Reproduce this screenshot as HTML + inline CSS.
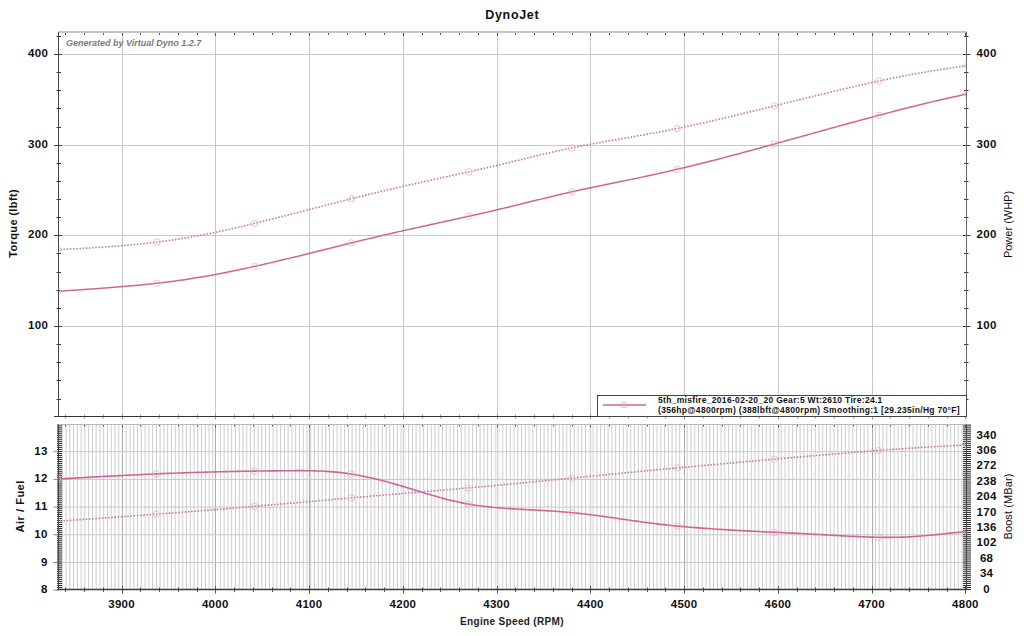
<!DOCTYPE html><html><head><meta charset="utf-8"><style>html,body{margin:0;padding:0;width:1024px;height:636px;overflow:hidden;background:#fff}</style></head><body><svg width="1024" height="636" viewBox="0 0 1024 636" style="position:absolute;left:0;top:0">
<rect width="1024" height="636" fill="#fff"/>
<text x="512.3" y="18.9" text-anchor="middle" font-family="Liberation Sans" font-weight="bold" font-size="12.5" letter-spacing="0.67" fill="#111">DynoJet</text>
<path d="M122.5 32.0V416.5M215.5 32.0V416.5M309.5 32.0V416.5M403.5 32.0V416.5M497.5 32.0V416.5M590.5 32.0V416.5M684.5 32.0V416.5M778.5 32.0V416.5M872.5 32.0V416.5M58.5 326.5H966.5M58.5 235.5H966.5M58.5 145.5H966.5M58.5 54.5H966.5" stroke="#c8c8c8" stroke-width="1" fill="none"/>
<text x="66" y="46" font-family="Liberation Sans" font-weight="bold" font-style="italic" font-size="9" fill="#7a7a7a">Generated by Virtual Dyno 1.2.7</text>
<path d="M56.5 399.5H61.0M964.0 399.5H968.5M56.5 380.5H61.0M964.0 380.5H968.5M56.5 362.5H61.0M964.0 362.5H968.5M56.5 344.5H61.0M964.0 344.5H968.5M54.0 326.5H62.0M963.0 326.5H970.5M56.5 308.5H61.0M964.0 308.5H968.5M56.5 290.5H61.0M964.0 290.5H968.5M56.5 272.5H61.0M964.0 272.5H968.5M56.5 253.5H61.0M964.0 253.5H968.5M54.0 235.5H62.0M963.0 235.5H970.5M56.5 217.5H61.0M964.0 217.5H968.5M56.5 199.5H61.0M964.0 199.5H968.5M56.5 181.5H61.0M964.0 181.5H968.5M56.5 163.5H61.0M964.0 163.5H968.5M54.0 145.5H62.0M963.0 145.5H970.5M56.5 127.5H61.0M964.0 127.5H968.5M56.5 108.5H61.0M964.0 108.5H968.5M56.5 90.5H61.0M964.0 90.5H968.5M56.5 72.5H61.0M964.0 72.5H968.5M54.0 54.5H62.0M963.0 54.5H970.5M56.5 36.5H61.0M964.0 36.5H968.5" stroke="#3a3a3a" stroke-width="1" fill="none"/>
<path d="M65.5 32.0V35.0M84.5 32.0V35.0M103.5 32.0V35.0M122.5 32.0V36.0M140.5 32.0V35.0M159.5 32.0V35.0M178.5 32.0V35.0M197.5 32.0V35.0M215.5 32.0V36.0M234.5 32.0V35.0M253.5 32.0V35.0M272.5 32.0V35.0M290.5 32.0V35.0M309.5 32.0V36.0M328.5 32.0V35.0M347.5 32.0V35.0M365.5 32.0V35.0M384.5 32.0V35.0M403.5 32.0V36.0M422.5 32.0V35.0M440.5 32.0V35.0M459.5 32.0V35.0M478.5 32.0V35.0M497.5 32.0V36.0M515.5 32.0V35.0M534.5 32.0V35.0M553.5 32.0V35.0M572.5 32.0V35.0M590.5 32.0V36.0M609.5 32.0V35.0M628.5 32.0V35.0M647.5 32.0V35.0M665.5 32.0V35.0M684.5 32.0V36.0M703.5 32.0V35.0M722.5 32.0V35.0M740.5 32.0V35.0M759.5 32.0V35.0M778.5 32.0V36.0M797.5 32.0V35.0M815.5 32.0V35.0M834.5 32.0V35.0M853.5 32.0V35.0M872.5 32.0V36.0M890.5 32.0V35.0M909.5 32.0V35.0M928.5 32.0V35.0M947.5 32.0V35.0M965.5 32.0V36.0" stroke="#555" stroke-width="1" fill="none"/>
<path d="M65.5 414.5V418.5M84.5 414.5V418.5M103.5 414.5V418.5M122.5 413.5V419.5M140.5 414.5V418.5M159.5 414.5V418.5M178.5 414.5V418.5M197.5 414.5V418.5M215.5 413.5V419.5M234.5 414.5V418.5M253.5 414.5V418.5M272.5 414.5V418.5M290.5 414.5V418.5M309.5 413.5V419.5M328.5 414.5V418.5M347.5 414.5V418.5M365.5 414.5V418.5M384.5 414.5V418.5M403.5 413.5V419.5M422.5 414.5V418.5M440.5 414.5V418.5M459.5 414.5V418.5M478.5 414.5V418.5M497.5 413.5V419.5M515.5 414.5V418.5M534.5 414.5V418.5M553.5 414.5V418.5M572.5 414.5V418.5M590.5 413.5V419.5M609.5 414.5V418.5M628.5 414.5V418.5M647.5 414.5V418.5M665.5 414.5V418.5M684.5 413.5V419.5M703.5 414.5V418.5M722.5 414.5V418.5M740.5 414.5V418.5M759.5 414.5V418.5M778.5 413.5V419.5M797.5 414.5V418.5M815.5 414.5V418.5M834.5 414.5V418.5M853.5 414.5V418.5M872.5 413.5V419.5M890.5 414.5V418.5M909.5 414.5V418.5M928.5 414.5V418.5M947.5 414.5V418.5M965.5 413.5V419.5" stroke="#9a9a9a" stroke-width="1" fill="none"/>
<path d="M58.0 32.0H967.0" stroke="#c4c4c4" stroke-width="2" fill="none"/>
<path d="M58.5 416.5V32.0" stroke="#444" stroke-width="1" fill="none"/>
<path d="M966.5 32.0V416.5" stroke="#666" stroke-width="1" fill="none"/>
<path d="M54.0 416.5H967.0" stroke="#333" stroke-width="1" fill="none"/>
<text x="48.1" y="328.7" text-anchor="end" font-family="Liberation Sans" font-weight="bold" font-size="11.5" letter-spacing="0.3" fill="#111">100</text>
<text x="986.6" y="328.7" text-anchor="middle" font-family="Liberation Sans" font-weight="bold" font-size="11.5" letter-spacing="0.3" fill="#111">100</text>
<text x="48.1" y="237.7" text-anchor="end" font-family="Liberation Sans" font-weight="bold" font-size="11.5" letter-spacing="0.3" fill="#111">200</text>
<text x="986.6" y="237.7" text-anchor="middle" font-family="Liberation Sans" font-weight="bold" font-size="11.5" letter-spacing="0.3" fill="#111">200</text>
<text x="48.1" y="147.7" text-anchor="end" font-family="Liberation Sans" font-weight="bold" font-size="11.5" letter-spacing="0.3" fill="#111">300</text>
<text x="986.6" y="147.7" text-anchor="middle" font-family="Liberation Sans" font-weight="bold" font-size="11.5" letter-spacing="0.3" fill="#111">300</text>
<text x="48.1" y="56.7" text-anchor="end" font-family="Liberation Sans" font-weight="bold" font-size="11.5" letter-spacing="0.3" fill="#111">400</text>
<text x="986.6" y="56.7" text-anchor="middle" font-family="Liberation Sans" font-weight="bold" font-size="11.5" letter-spacing="0.3" fill="#111">400</text>
<text transform="translate(16.6,223.4) rotate(-90)" text-anchor="middle" font-family="Liberation Sans" font-weight="bold" font-size="11" letter-spacing="0.37" fill="#111">Torque (lbft)</text>
<text transform="translate(1012,224.5) rotate(-90)" text-anchor="middle" font-family="Liberation Sans" font-size="11" fill="#111">Power (WHP)</text>
<clipPath id="cu"><rect x="58.5" y="32.0" width="908.0" height="384.5"/></clipPath>
<clipPath id="cl"><rect x="58.5" y="424.5" width="908.0" height="165.5"/></clipPath>
<g clip-path="url(#cu)">
<path d="M57.0 291.30 L60.0 291.10 L63.0 290.91 L66.0 290.72 L69.0 290.52 L72.0 290.33 L75.0 290.13 L78.0 289.93 L81.0 289.73 L84.0 289.53 L87.0 289.33 L90.0 289.12 L93.0 288.91 L96.0 288.70 L99.0 288.49 L102.0 288.27 L105.0 288.05 L108.0 287.82 L111.0 287.59 L114.0 287.35 L117.0 287.11 L120.0 286.87 L123.0 286.61 L126.0 286.36 L129.0 286.09 L132.0 285.82 L135.0 285.54 L138.0 285.26 L141.0 284.96 L144.0 284.66 L147.0 284.35 L150.0 284.04 L153.0 283.71 L156.0 283.37 L159.0 283.03 L162.0 282.67 L165.0 282.31 L168.0 281.94 L171.0 281.55 L174.0 281.15 L177.0 280.75 L180.0 280.33 L183.0 279.90 L186.0 279.45 L189.0 279.00 L192.0 278.53 L195.0 278.05 L198.0 277.56 L201.0 277.05 L204.0 276.54 L207.0 276.01 L210.0 275.48 L213.0 274.93 L216.0 274.37 L219.0 273.81 L222.0 273.23 L225.0 272.64 L228.0 272.05 L231.0 271.44 L234.0 270.83 L237.0 270.21 L240.0 269.58 L243.0 268.94 L246.0 268.29 L249.0 267.64 L252.0 266.98 L255.0 266.31 L258.0 265.64 L261.0 264.96 L264.0 264.28 L267.0 263.59 L270.0 262.89 L273.0 262.19 L276.0 261.48 L279.0 260.77 L282.0 260.06 L285.0 259.34 L288.0 258.61 L291.0 257.89 L294.0 257.16 L297.0 256.42 L300.0 255.69 L303.0 254.95 L306.0 254.21 L309.0 253.47 L312.0 252.72 L315.0 251.98 L318.0 251.23 L321.0 250.49 L324.0 249.74 L327.0 248.99 L330.0 248.24 L333.0 247.49 L336.0 246.75 L339.0 246.00 L342.0 245.26 L345.0 244.51 L348.0 243.77 L351.0 243.03 L354.0 242.29 L357.0 241.55 L360.0 240.82 L363.0 240.09 L366.0 239.36 L369.0 238.64 L372.0 237.92 L375.0 237.20 L378.0 236.49 L381.0 235.79 L384.0 235.08 L387.0 234.39 L390.0 233.69 L393.0 233.01 L396.0 232.32 L399.0 231.64 L402.0 230.96 L405.0 230.29 L408.0 229.62 L411.0 228.95 L414.0 228.29 L417.0 227.63 L420.0 226.97 L423.0 226.31 L426.0 225.65 L429.0 224.99 L432.0 224.34 L435.0 223.68 L438.0 223.03 L441.0 222.37 L444.0 221.72 L447.0 221.06 L450.0 220.40 L453.0 219.75 L456.0 219.09 L459.0 218.43 L462.0 217.77 L465.0 217.10 L468.0 216.43 L471.0 215.76 L474.0 215.09 L477.0 214.41 L480.0 213.74 L483.0 213.05 L486.0 212.36 L489.0 211.67 L492.0 210.98 L495.0 210.27 L498.0 209.57 L501.0 208.85 L504.0 208.14 L507.0 207.42 L510.0 206.69 L513.0 205.96 L516.0 205.23 L519.0 204.50 L522.0 203.77 L525.0 203.03 L528.0 202.30 L531.0 201.56 L534.0 200.83 L537.0 200.09 L540.0 199.36 L543.0 198.63 L546.0 197.90 L549.0 197.18 L552.0 196.46 L555.0 195.75 L558.0 195.04 L561.0 194.33 L564.0 193.63 L567.0 192.94 L570.0 192.26 L573.0 191.58 L576.0 190.91 L579.0 190.25 L582.0 189.60 L585.0 188.95 L588.0 188.30 L591.0 187.67 L594.0 187.03 L597.0 186.40 L600.0 185.78 L603.0 185.16 L606.0 184.54 L609.0 183.92 L612.0 183.30 L615.0 182.69 L618.0 182.07 L621.0 181.46 L624.0 180.84 L627.0 180.23 L630.0 179.61 L633.0 178.99 L636.0 178.36 L639.0 177.74 L642.0 177.11 L645.0 176.47 L648.0 175.83 L651.0 175.19 L654.0 174.54 L657.0 173.88 L660.0 173.21 L663.0 172.54 L666.0 171.87 L669.0 171.18 L672.0 170.49 L675.0 169.79 L678.0 169.09 L681.0 168.38 L684.0 167.66 L687.0 166.94 L690.0 166.21 L693.0 165.48 L696.0 164.74 L699.0 163.99 L702.0 163.24 L705.0 162.49 L708.0 161.73 L711.0 160.97 L714.0 160.20 L717.0 159.43 L720.0 158.65 L723.0 157.87 L726.0 157.08 L729.0 156.30 L732.0 155.50 L735.0 154.71 L738.0 153.91 L741.0 153.11 L744.0 152.30 L747.0 151.49 L750.0 150.68 L753.0 149.87 L756.0 149.05 L759.0 148.24 L762.0 147.42 L765.0 146.59 L768.0 145.77 L771.0 144.95 L774.0 144.12 L777.0 143.29 L780.0 142.46 L783.0 141.63 L786.0 140.80 L789.0 139.96 L792.0 139.13 L795.0 138.30 L798.0 137.46 L801.0 136.63 L804.0 135.79 L807.0 134.96 L810.0 134.12 L813.0 133.29 L816.0 132.45 L819.0 131.62 L822.0 130.79 L825.0 129.96 L828.0 129.12 L831.0 128.29 L834.0 127.46 L837.0 126.64 L840.0 125.81 L843.0 124.99 L846.0 124.16 L849.0 123.34 L852.0 122.52 L855.0 121.71 L858.0 120.89 L861.0 120.08 L864.0 119.27 L867.0 118.46 L870.0 117.66 L873.0 116.85 L876.0 116.06 L879.0 115.26 L882.0 114.47 L885.0 113.68 L888.0 112.89 L891.0 112.11 L894.0 111.34 L897.0 110.56 L900.0 109.79 L903.0 109.03 L906.0 108.27 L909.0 107.51 L912.0 106.76 L915.0 106.01 L918.0 105.27 L921.0 104.54 L924.0 103.81 L927.0 103.08 L930.0 102.36 L933.0 101.64 L936.0 100.94 L939.0 100.23 L942.0 99.54 L945.0 98.84 L948.0 98.16 L951.0 97.48 L954.0 96.81 L957.0 96.15 L960.0 95.49 L963.0 94.84 L966.0 94.19 L969.0 93.56" stroke="#d0649a" stroke-width="1.5" fill="none" stroke-linejoin="round"/>
<path d="M57.0 249.56 L60.0 249.44 L63.0 249.30 L66.0 249.17 L69.0 249.03 L72.0 248.89 L75.0 248.74 L78.0 248.59 L81.0 248.44 L84.0 248.27 L87.0 248.11 L90.0 247.94 L93.0 247.76 L96.0 247.57 L99.0 247.38 L102.0 247.18 L105.0 246.98 L108.0 246.77 L111.0 246.55 L114.0 246.32 L117.0 246.09 L120.0 245.84 L123.0 245.59 L126.0 245.33 L129.0 245.06 L132.0 244.78 L135.0 244.49 L138.0 244.19 L141.0 243.89 L144.0 243.57 L147.0 243.24 L150.0 242.90 L153.0 242.54 L156.0 242.18 L159.0 241.81 L162.0 241.42 L165.0 241.02 L168.0 240.61 L171.0 240.18 L174.0 239.75 L177.0 239.30 L180.0 238.83 L183.0 238.35 L186.0 237.86 L189.0 237.35 L192.0 236.83 L195.0 236.30 L198.0 235.75 L201.0 235.19 L204.0 234.62 L207.0 234.03 L210.0 233.43 L213.0 232.82 L216.0 232.20 L219.0 231.57 L222.0 230.93 L225.0 230.28 L228.0 229.62 L231.0 228.95 L234.0 228.27 L237.0 227.58 L240.0 226.88 L243.0 226.18 L246.0 225.47 L249.0 224.75 L252.0 224.03 L255.0 223.30 L258.0 222.57 L261.0 221.83 L264.0 221.08 L267.0 220.33 L270.0 219.58 L273.0 218.82 L276.0 218.06 L279.0 217.30 L282.0 216.54 L285.0 215.77 L288.0 215.00 L291.0 214.23 L294.0 213.46 L297.0 212.68 L300.0 211.91 L303.0 211.14 L306.0 210.36 L309.0 209.59 L312.0 208.81 L315.0 208.04 L318.0 207.26 L321.0 206.49 L324.0 205.72 L327.0 204.94 L330.0 204.17 L333.0 203.40 L336.0 202.64 L339.0 201.87 L342.0 201.11 L345.0 200.35 L348.0 199.59 L351.0 198.83 L354.0 198.08 L357.0 197.33 L360.0 196.59 L363.0 195.85 L366.0 195.11 L369.0 194.38 L372.0 193.65 L375.0 192.92 L378.0 192.20 L381.0 191.49 L384.0 190.78 L387.0 190.07 L390.0 189.37 L393.0 188.68 L396.0 187.99 L399.0 187.30 L402.0 186.62 L405.0 185.94 L408.0 185.27 L411.0 184.60 L414.0 183.93 L417.0 183.26 L420.0 182.59 L423.0 181.93 L426.0 181.27 L429.0 180.61 L432.0 179.95 L435.0 179.29 L438.0 178.64 L441.0 177.98 L444.0 177.32 L447.0 176.67 L450.0 176.01 L453.0 175.35 L456.0 174.69 L459.0 174.03 L462.0 173.36 L465.0 172.70 L468.0 172.03 L471.0 171.36 L474.0 170.68 L477.0 170.01 L480.0 169.33 L483.0 168.64 L486.0 167.95 L489.0 167.26 L492.0 166.56 L495.0 165.86 L498.0 165.15 L501.0 164.44 L504.0 163.73 L507.0 163.00 L510.0 162.28 L513.0 161.55 L516.0 160.83 L519.0 160.10 L522.0 159.37 L525.0 158.64 L528.0 157.91 L531.0 157.19 L534.0 156.46 L537.0 155.74 L540.0 155.03 L543.0 154.32 L546.0 153.61 L549.0 152.91 L552.0 152.22 L555.0 151.54 L558.0 150.86 L561.0 150.19 L564.0 149.54 L567.0 148.89 L570.0 148.26 L573.0 147.63 L576.0 147.02 L579.0 146.42 L582.0 145.83 L585.0 145.25 L588.0 144.69 L591.0 144.12 L594.0 143.57 L597.0 143.02 L600.0 142.48 L603.0 141.95 L606.0 141.42 L609.0 140.90 L612.0 140.37 L615.0 139.85 L618.0 139.34 L621.0 138.82 L624.0 138.30 L627.0 137.79 L630.0 137.27 L633.0 136.75 L636.0 136.23 L639.0 135.71 L642.0 135.18 L645.0 134.65 L648.0 134.11 L651.0 133.56 L654.0 133.01 L657.0 132.45 L660.0 131.89 L663.0 131.31 L666.0 130.73 L669.0 130.14 L672.0 129.54 L675.0 128.93 L678.0 128.32 L681.0 127.70 L684.0 127.07 L687.0 126.43 L690.0 125.79 L693.0 125.15 L696.0 124.49 L699.0 123.83 L702.0 123.17 L705.0 122.50 L708.0 121.82 L711.0 121.14 L714.0 120.45 L717.0 119.76 L720.0 119.06 L723.0 118.36 L726.0 117.66 L729.0 116.95 L732.0 116.24 L735.0 115.52 L738.0 114.81 L741.0 114.08 L744.0 113.36 L747.0 112.63 L750.0 111.90 L753.0 111.17 L756.0 110.44 L759.0 109.70 L762.0 108.96 L765.0 108.22 L768.0 107.48 L771.0 106.74 L774.0 106.00 L777.0 105.26 L780.0 104.51 L783.0 103.77 L786.0 103.03 L789.0 102.28 L792.0 101.54 L795.0 100.80 L798.0 100.06 L801.0 99.32 L804.0 98.58 L807.0 97.84 L810.0 97.10 L813.0 96.37 L816.0 95.63 L819.0 94.90 L822.0 94.17 L825.0 93.45 L828.0 92.72 L831.0 92.00 L834.0 91.29 L837.0 90.57 L840.0 89.86 L843.0 89.16 L846.0 88.45 L849.0 87.76 L852.0 87.06 L855.0 86.37 L858.0 85.69 L861.0 85.01 L864.0 84.33 L867.0 83.67 L870.0 83.00 L873.0 82.34 L876.0 81.69 L879.0 81.05 L882.0 80.41 L885.0 79.78 L888.0 79.15 L891.0 78.53 L894.0 77.92 L897.0 77.32 L900.0 76.72 L903.0 76.13 L906.0 75.55 L909.0 74.98 L912.0 74.41 L915.0 73.86 L918.0 73.31 L921.0 72.77 L924.0 72.25 L927.0 71.73 L930.0 71.22 L933.0 70.72 L936.0 70.23 L939.0 69.75 L942.0 69.28 L945.0 68.82 L948.0 68.37 L951.0 67.94 L954.0 67.51 L957.0 67.10 L960.0 66.69 L963.0 66.30 L966.0 65.92 L969.0 65.56" stroke="#c77aa0" stroke-width="1.6" stroke-dasharray="1.6 1.6" fill="none"/>
<circle cx="57.5" cy="291.3" r="3.2" stroke="#e2b2c8" stroke-width="0.8" fill="none"/>
<circle cx="57.5" cy="249.5" r="3.2" stroke="#e2b2c8" stroke-width="0.8" fill="none"/>
<circle cx="157.2" cy="283.2" r="3.2" stroke="#e2b2c8" stroke-width="0.8" fill="none"/>
<circle cx="157.2" cy="242.0" r="3.2" stroke="#e2b2c8" stroke-width="0.8" fill="none"/>
<circle cx="254.7" cy="266.4" r="3.2" stroke="#e2b2c8" stroke-width="0.8" fill="none"/>
<circle cx="254.7" cy="223.4" r="3.2" stroke="#e2b2c8" stroke-width="0.8" fill="none"/>
<circle cx="351.6" cy="242.9" r="3.2" stroke="#e2b2c8" stroke-width="0.8" fill="none"/>
<circle cx="351.6" cy="198.7" r="3.2" stroke="#e2b2c8" stroke-width="0.8" fill="none"/>
<circle cx="468.8" cy="216.3" r="3.2" stroke="#e2b2c8" stroke-width="0.8" fill="none"/>
<circle cx="468.8" cy="171.8" r="3.2" stroke="#e2b2c8" stroke-width="0.8" fill="none"/>
<circle cx="571.8" cy="191.9" r="3.2" stroke="#e2b2c8" stroke-width="0.8" fill="none"/>
<circle cx="571.8" cy="147.9" r="3.2" stroke="#e2b2c8" stroke-width="0.8" fill="none"/>
<circle cx="677.1" cy="169.3" r="3.2" stroke="#e2b2c8" stroke-width="0.8" fill="none"/>
<circle cx="677.1" cy="128.5" r="3.2" stroke="#e2b2c8" stroke-width="0.8" fill="none"/>
<circle cx="774.4" cy="144.0" r="3.2" stroke="#e2b2c8" stroke-width="0.8" fill="none"/>
<circle cx="774.4" cy="105.9" r="3.2" stroke="#e2b2c8" stroke-width="0.8" fill="none"/>
<circle cx="879.0" cy="115.3" r="3.2" stroke="#e2b2c8" stroke-width="0.8" fill="none"/>
<circle cx="879.0" cy="81.0" r="3.2" stroke="#e2b2c8" stroke-width="0.8" fill="none"/>
<circle cx="967.5" cy="93.9" r="3.2" stroke="#e2b2c8" stroke-width="0.8" fill="none"/>
<circle cx="967.5" cy="65.7" r="3.2" stroke="#e2b2c8" stroke-width="0.8" fill="none"/>
</g>
<rect x="597.5" y="395.5" width="369" height="21" fill="#fff" stroke="#444" stroke-width="1"/>
<path d="M603 405H646" stroke="#d0649a" stroke-width="1.5"/>
<circle cx="624" cy="405" r="3" stroke="#e2b2c8" stroke-width="0.8" fill="none"/>
<text x="658" y="402.5" font-family="Liberation Sans" font-weight="bold" font-size="8.5" letter-spacing="0.31" fill="#111">5th_misfire_2016-02-20_20 Gear:5 Wt:2610 Tire:24.1</text>
<text x="658" y="413" font-family="Liberation Sans" font-weight="bold" font-size="8.5" letter-spacing="0.31" fill="#111">(356hp@4800rpm) (388lbft@4800rpm) Smoothing:1 [29.235in/Hg 70°F]</text>
<path d="M62.27 424.5V590.0M66.03 424.5V590.0M69.80 424.5V590.0M73.56 424.5V590.0M77.32 424.5V590.0M81.09 424.5V590.0M84.85 424.5V590.0M88.62 424.5V590.0M92.38 424.5V590.0M96.15 424.5V590.0M99.91 424.5V590.0M103.68 424.5V590.0M107.44 424.5V590.0M111.21 424.5V590.0M114.97 424.5V590.0M118.74 424.5V590.0M126.26 424.5V590.0M130.03 424.5V590.0M133.79 424.5V590.0M137.56 424.5V590.0M141.32 424.5V590.0M145.09 424.5V590.0M148.85 424.5V590.0M152.62 424.5V590.0M156.38 424.5V590.0M160.15 424.5V590.0M163.91 424.5V590.0M167.68 424.5V590.0M171.44 424.5V590.0M175.20 424.5V590.0M178.97 424.5V590.0M182.73 424.5V590.0M186.50 424.5V590.0M190.26 424.5V590.0M194.03 424.5V590.0M197.79 424.5V590.0M201.56 424.5V590.0M205.32 424.5V590.0M209.09 424.5V590.0M212.85 424.5V590.0M220.38 424.5V590.0M224.14 424.5V590.0M227.91 424.5V590.0M231.67 424.5V590.0M235.44 424.5V590.0M239.20 424.5V590.0M242.97 424.5V590.0M246.73 424.5V590.0M250.50 424.5V590.0M254.26 424.5V590.0M258.03 424.5V590.0M261.79 424.5V590.0M265.55 424.5V590.0M269.32 424.5V590.0M273.08 424.5V590.0M276.85 424.5V590.0M280.61 424.5V590.0M284.38 424.5V590.0M288.14 424.5V590.0M291.91 424.5V590.0M295.67 424.5V590.0M299.44 424.5V590.0M303.20 424.5V590.0M306.97 424.5V590.0M310.73 424.5V590.0M314.49 424.5V590.0M318.26 424.5V590.0M322.02 424.5V590.0M325.79 424.5V590.0M329.55 424.5V590.0M333.32 424.5V590.0M337.08 424.5V590.0M340.85 424.5V590.0M344.61 424.5V590.0M348.38 424.5V590.0M352.14 424.5V590.0M355.91 424.5V590.0M359.67 424.5V590.0M363.43 424.5V590.0M367.20 424.5V590.0M370.96 424.5V590.0M374.73 424.5V590.0M378.49 424.5V590.0M382.26 424.5V590.0M386.02 424.5V590.0M389.79 424.5V590.0M393.55 424.5V590.0M397.32 424.5V590.0M401.08 424.5V590.0M404.85 424.5V590.0M408.61 424.5V590.0M412.37 424.5V590.0M416.14 424.5V590.0M419.90 424.5V590.0M423.67 424.5V590.0M427.43 424.5V590.0M431.20 424.5V590.0M434.96 424.5V590.0M438.73 424.5V590.0M442.49 424.5V590.0M446.26 424.5V590.0M450.02 424.5V590.0M453.78 424.5V590.0M457.55 424.5V590.0M461.31 424.5V590.0M465.08 424.5V590.0M468.84 424.5V590.0M472.61 424.5V590.0M476.37 424.5V590.0M480.14 424.5V590.0M483.90 424.5V590.0M487.67 424.5V590.0M491.43 424.5V590.0M495.20 424.5V590.0M498.96 424.5V590.0M502.72 424.5V590.0M506.49 424.5V590.0M510.25 424.5V590.0M514.02 424.5V590.0M517.78 424.5V590.0M521.55 424.5V590.0M525.31 424.5V590.0M529.08 424.5V590.0M532.84 424.5V590.0M536.61 424.5V590.0M540.37 424.5V590.0M544.14 424.5V590.0M547.90 424.5V590.0M551.66 424.5V590.0M555.43 424.5V590.0M559.19 424.5V590.0M562.96 424.5V590.0M566.72 424.5V590.0M570.49 424.5V590.0M574.25 424.5V590.0M578.02 424.5V590.0M581.78 424.5V590.0M585.55 424.5V590.0M593.08 424.5V590.0M596.84 424.5V590.0M600.60 424.5V590.0M604.37 424.5V590.0M608.13 424.5V590.0M611.90 424.5V590.0M615.66 424.5V590.0M619.43 424.5V590.0M623.19 424.5V590.0M626.96 424.5V590.0M630.72 424.5V590.0M634.49 424.5V590.0M638.25 424.5V590.0M642.01 424.5V590.0M645.78 424.5V590.0M649.54 424.5V590.0M653.31 424.5V590.0M657.07 424.5V590.0M660.84 424.5V590.0M664.60 424.5V590.0M668.37 424.5V590.0M672.13 424.5V590.0M675.90 424.5V590.0M679.66 424.5V590.0M687.19 424.5V590.0M690.95 424.5V590.0M694.72 424.5V590.0M698.48 424.5V590.0M702.25 424.5V590.0M706.01 424.5V590.0M709.78 424.5V590.0M713.54 424.5V590.0M717.31 424.5V590.0M721.07 424.5V590.0M724.84 424.5V590.0M728.60 424.5V590.0M732.37 424.5V590.0M736.13 424.5V590.0M739.89 424.5V590.0M743.66 424.5V590.0M747.42 424.5V590.0M751.19 424.5V590.0M754.95 424.5V590.0M758.72 424.5V590.0M762.48 424.5V590.0M766.25 424.5V590.0M770.01 424.5V590.0M773.78 424.5V590.0M781.31 424.5V590.0M785.07 424.5V590.0M788.83 424.5V590.0M792.60 424.5V590.0M796.36 424.5V590.0M800.13 424.5V590.0M803.89 424.5V590.0M807.66 424.5V590.0M811.42 424.5V590.0M815.19 424.5V590.0M818.95 424.5V590.0M822.72 424.5V590.0M826.48 424.5V590.0M830.24 424.5V590.0M834.01 424.5V590.0M837.77 424.5V590.0M841.54 424.5V590.0M845.30 424.5V590.0M849.07 424.5V590.0M852.83 424.5V590.0M856.60 424.5V590.0M860.36 424.5V590.0M864.13 424.5V590.0M867.89 424.5V590.0M875.42 424.5V590.0M879.18 424.5V590.0M882.95 424.5V590.0M886.71 424.5V590.0M890.48 424.5V590.0M894.24 424.5V590.0M898.01 424.5V590.0M901.77 424.5V590.0M905.54 424.5V590.0M909.30 424.5V590.0M913.07 424.5V590.0M916.83 424.5V590.0M920.60 424.5V590.0M924.36 424.5V590.0M928.12 424.5V590.0M931.89 424.5V590.0M935.65 424.5V590.0M939.42 424.5V590.0M943.18 424.5V590.0M946.95 424.5V590.0M950.71 424.5V590.0M954.48 424.5V590.0M958.24 424.5V590.0M962.01 424.5V590.0" stroke="#cdcdcd" stroke-width="1" fill="none"/>
<path d="M403.5 424.5V590.0M497.5 424.5V590.0M590.5 424.5V590.0M778.5 424.5V590.0" stroke="#f4f4f4" stroke-width="4" fill="none"/>
<path d="M403.5 424.5V590.0M497.5 424.5V590.0M590.5 424.5V590.0M778.5 424.5V590.0" stroke="#d4d4d4" stroke-width="1" fill="none"/>
<path d="M122.5 424.5V590.0M215.5 424.5V590.0M309.5 424.5V590.0M684.5 424.5V590.0M872.5 424.5V590.0" stroke="#ababab" stroke-width="1" fill="none"/>
<path d="M58.5 562.5H966.5M58.5 534.8H966.5M58.5 507.09999999999997H966.5M58.5 479.4H966.5M58.5 451.7H966.5" stroke="#c8c8c8" stroke-width="1" fill="none"/>
<path d="M57.0 589.50H62.0M963.0 589.50H971.0M57.0 587.47H62.0M963.0 587.47H971.0M57.0 585.44H62.0M963.0 585.44H971.0M57.0 583.41H62.0M963.0 583.41H971.0M57.0 581.38H62.0M963.0 581.38H971.0M57.0 579.35H62.0M963.0 579.35H971.0M57.0 577.32H62.0M963.0 577.32H971.0M57.0 575.29H62.0M963.0 575.29H971.0M57.0 573.26H62.0M963.0 573.26H971.0M57.0 571.23H62.0M963.0 571.23H971.0M57.0 569.20H62.0M963.0 569.20H971.0M57.0 567.17H62.0M963.0 567.17H971.0M57.0 565.14H62.0M963.0 565.14H971.0M57.0 563.11H62.0M963.0 563.11H971.0M57.0 561.08H62.0M963.0 561.08H971.0M57.0 559.05H62.0M963.0 559.05H971.0M57.0 557.02H62.0M963.0 557.02H971.0M57.0 554.99H62.0M963.0 554.99H971.0M57.0 552.96H62.0M963.0 552.96H971.0M57.0 550.93H62.0M963.0 550.93H971.0M57.0 548.90H62.0M963.0 548.90H971.0M57.0 546.87H62.0M963.0 546.87H971.0M57.0 544.84H62.0M963.0 544.84H971.0M57.0 542.81H62.0M963.0 542.81H971.0M57.0 540.78H62.0M963.0 540.78H971.0M57.0 538.75H62.0M963.0 538.75H971.0M57.0 536.72H62.0M963.0 536.72H971.0M57.0 534.69H62.0M963.0 534.69H971.0M57.0 532.66H62.0M963.0 532.66H971.0M57.0 530.63H62.0M963.0 530.63H971.0M57.0 528.60H62.0M963.0 528.60H971.0M57.0 526.57H62.0M963.0 526.57H971.0M57.0 524.54H62.0M963.0 524.54H971.0M57.0 522.51H62.0M963.0 522.51H971.0M57.0 520.48H62.0M963.0 520.48H971.0M57.0 518.45H62.0M963.0 518.45H971.0M57.0 516.42H62.0M963.0 516.42H971.0M57.0 514.39H62.0M963.0 514.39H971.0M57.0 512.36H62.0M963.0 512.36H971.0M57.0 510.33H62.0M963.0 510.33H971.0M57.0 508.30H62.0M963.0 508.30H971.0M57.0 506.27H62.0M963.0 506.27H971.0M57.0 504.24H62.0M963.0 504.24H971.0M57.0 502.21H62.0M963.0 502.21H971.0M57.0 500.18H62.0M963.0 500.18H971.0M57.0 498.15H62.0M963.0 498.15H971.0M57.0 496.12H62.0M963.0 496.12H971.0M57.0 494.09H62.0M963.0 494.09H971.0M57.0 492.06H62.0M963.0 492.06H971.0M57.0 490.03H62.0M963.0 490.03H971.0M57.0 488.00H62.0M963.0 488.00H971.0M57.0 485.97H62.0M963.0 485.97H971.0M57.0 483.94H62.0M963.0 483.94H971.0M57.0 481.91H62.0M963.0 481.91H971.0M57.0 479.88H62.0M963.0 479.88H971.0M57.0 477.85H62.0M963.0 477.85H971.0M57.0 475.82H62.0M963.0 475.82H971.0M57.0 473.79H62.0M963.0 473.79H971.0M57.0 471.76H62.0M963.0 471.76H971.0M57.0 469.73H62.0M963.0 469.73H971.0M57.0 467.70H62.0M963.0 467.70H971.0M57.0 465.67H62.0M963.0 465.67H971.0M57.0 463.64H62.0M963.0 463.64H971.0M57.0 461.61H62.0M963.0 461.61H971.0M57.0 459.58H62.0M963.0 459.58H971.0M57.0 457.55H62.0M963.0 457.55H971.0M57.0 455.52H62.0M963.0 455.52H971.0M57.0 453.49H62.0M963.0 453.49H971.0M57.0 451.46H62.0M963.0 451.46H971.0M57.0 449.43H62.0M963.0 449.43H971.0M57.0 447.40H62.0M963.0 447.40H971.0M57.0 445.37H62.0M963.0 445.37H971.0M57.0 443.34H62.0M963.0 443.34H971.0M57.0 441.31H62.0M963.0 441.31H971.0M57.0 439.28H62.0M963.0 439.28H971.0M57.0 437.25H62.0M963.0 437.25H971.0M57.0 435.22H62.0M963.0 435.22H971.0M57.0 433.19H62.0M963.0 433.19H971.0M57.0 431.16H62.0M963.0 431.16H971.0M57.0 429.13H62.0M963.0 429.13H971.0M57.0 427.10H62.0M963.0 427.10H971.0M57.0 425.07H62.0M963.0 425.07H971.0" stroke="#222" stroke-width="1" fill="none"/>
<path d="M53.5 590.2H58.5M53.5 562.5H58.5M53.5 534.8H58.5M53.5 507.09999999999997H58.5M53.5 479.4H58.5M53.5 451.7H58.5" stroke="#888" stroke-width="1" fill="none"/>
<path d="M65.5 587.5V592.0M65.5 424.5V426.5M84.5 587.5V592.0M84.5 424.5V426.5M103.5 587.5V592.0M103.5 424.5V426.5M122.5 586.0V593.5M122.5 424.5V427.5M140.5 587.5V592.0M140.5 424.5V426.5M159.5 587.5V592.0M159.5 424.5V426.5M178.5 587.5V592.0M178.5 424.5V426.5M197.5 587.5V592.0M197.5 424.5V426.5M215.5 586.0V593.5M215.5 424.5V427.5M234.5 587.5V592.0M234.5 424.5V426.5M253.5 587.5V592.0M253.5 424.5V426.5M272.5 587.5V592.0M272.5 424.5V426.5M290.5 587.5V592.0M290.5 424.5V426.5M309.5 586.0V593.5M309.5 424.5V427.5M328.5 587.5V592.0M328.5 424.5V426.5M347.5 587.5V592.0M347.5 424.5V426.5M365.5 587.5V592.0M365.5 424.5V426.5M384.5 587.5V592.0M384.5 424.5V426.5M403.5 586.0V593.5M403.5 424.5V427.5M422.5 587.5V592.0M422.5 424.5V426.5M440.5 587.5V592.0M440.5 424.5V426.5M459.5 587.5V592.0M459.5 424.5V426.5M478.5 587.5V592.0M478.5 424.5V426.5M497.5 586.0V593.5M497.5 424.5V427.5M515.5 587.5V592.0M515.5 424.5V426.5M534.5 587.5V592.0M534.5 424.5V426.5M553.5 587.5V592.0M553.5 424.5V426.5M572.5 587.5V592.0M572.5 424.5V426.5M590.5 586.0V593.5M590.5 424.5V427.5M609.5 587.5V592.0M609.5 424.5V426.5M628.5 587.5V592.0M628.5 424.5V426.5M647.5 587.5V592.0M647.5 424.5V426.5M665.5 587.5V592.0M665.5 424.5V426.5M684.5 586.0V593.5M684.5 424.5V427.5M703.5 587.5V592.0M703.5 424.5V426.5M722.5 587.5V592.0M722.5 424.5V426.5M740.5 587.5V592.0M740.5 424.5V426.5M759.5 587.5V592.0M759.5 424.5V426.5M778.5 586.0V593.5M778.5 424.5V427.5M797.5 587.5V592.0M797.5 424.5V426.5M815.5 587.5V592.0M815.5 424.5V426.5M834.5 587.5V592.0M834.5 424.5V426.5M853.5 587.5V592.0M853.5 424.5V426.5M872.5 586.0V593.5M872.5 424.5V427.5M890.5 587.5V592.0M890.5 424.5V426.5M909.5 587.5V592.0M909.5 424.5V426.5M928.5 587.5V592.0M928.5 424.5V426.5M947.5 587.5V592.0M947.5 424.5V426.5M965.5 586.0V593.5M965.5 424.5V427.5" stroke="#555" stroke-width="1" fill="none"/>
<path d="M58.5 424.5H966.5" stroke="#b8b8b8" stroke-width="1" fill="none"/>
<path d="M58.5 424.5V590.0M966.5 424.5V590.0" stroke="#444" stroke-width="1" fill="none"/>
<path d="M58.0 589.5H967.0" stroke="#3a3a3a" stroke-width="1.6" fill="none"/>
<g clip-path="url(#cl)">
<path d="M57.0 479.11 L60.0 478.94 L63.0 478.77 L66.0 478.59 L69.0 478.42 L72.0 478.25 L75.0 478.08 L78.0 477.91 L81.0 477.74 L84.0 477.57 L87.0 477.40 L90.0 477.23 L93.0 477.07 L96.0 476.90 L99.0 476.74 L102.0 476.57 L105.0 476.41 L108.0 476.25 L111.0 476.09 L114.0 475.93 L117.0 475.78 L120.0 475.62 L123.0 475.47 L126.0 475.32 L129.0 475.17 L132.0 475.02 L135.0 474.88 L138.0 474.73 L141.0 474.59 L144.0 474.45 L147.0 474.31 L150.0 474.18 L153.0 474.05 L156.0 473.92 L159.0 473.79 L162.0 473.66 L165.0 473.54 L168.0 473.42 L171.0 473.30 L174.0 473.18 L177.0 473.07 L180.0 472.96 L183.0 472.85 L186.0 472.75 L189.0 472.65 L192.0 472.55 L195.0 472.46 L198.0 472.36 L201.0 472.28 L204.0 472.19 L207.0 472.11 L210.0 472.02 L213.0 471.95 L216.0 471.87 L219.0 471.80 L222.0 471.73 L225.0 471.66 L228.0 471.59 L231.0 471.53 L234.0 471.47 L237.0 471.41 L240.0 471.35 L243.0 471.30 L246.0 471.25 L249.0 471.20 L252.0 471.15 L255.0 471.10 L258.0 471.06 L261.0 471.01 L264.0 470.97 L267.0 470.94 L270.0 470.90 L273.0 470.87 L276.0 470.83 L279.0 470.80 L282.0 470.77 L285.0 470.75 L288.0 470.72 L291.0 470.70 L294.0 470.68 L297.0 470.67 L300.0 470.66 L303.0 470.67 L306.0 470.69 L309.0 470.73 L312.0 470.78 L315.0 470.86 L318.0 470.95 L321.0 471.07 L324.0 471.22 L327.0 471.40 L330.0 471.60 L333.0 471.84 L336.0 472.11 L339.0 472.42 L342.0 472.77 L345.0 473.15 L348.0 473.57 L351.0 474.02 L354.0 474.51 L357.0 475.02 L360.0 475.57 L363.0 476.16 L366.0 476.77 L369.0 477.41 L372.0 478.08 L375.0 478.78 L378.0 479.51 L381.0 480.26 L384.0 481.04 L387.0 481.84 L390.0 482.66 L393.0 483.51 L396.0 484.37 L399.0 485.24 L402.0 486.13 L405.0 487.03 L408.0 487.93 L411.0 488.84 L414.0 489.76 L417.0 490.67 L420.0 491.59 L423.0 492.50 L426.0 493.41 L429.0 494.31 L432.0 495.20 L435.0 496.08 L438.0 496.94 L441.0 497.79 L444.0 498.61 L447.0 499.40 L450.0 500.16 L453.0 500.90 L456.0 501.59 L459.0 502.25 L462.0 502.87 L465.0 503.45 L468.0 503.99 L471.0 504.50 L474.0 504.97 L477.0 505.42 L480.0 505.83 L483.0 506.21 L486.0 506.57 L489.0 506.91 L492.0 507.21 L495.0 507.50 L498.0 507.77 L501.0 508.02 L504.0 508.25 L507.0 508.47 L510.0 508.67 L513.0 508.87 L516.0 509.05 L519.0 509.22 L522.0 509.39 L525.0 509.55 L528.0 509.71 L531.0 509.87 L534.0 510.03 L537.0 510.19 L540.0 510.35 L543.0 510.52 L546.0 510.69 L549.0 510.87 L552.0 511.07 L555.0 511.27 L558.0 511.49 L561.0 511.72 L564.0 511.97 L567.0 512.23 L570.0 512.50 L573.0 512.79 L576.0 513.10 L579.0 513.41 L582.0 513.74 L585.0 514.08 L588.0 514.44 L591.0 514.81 L594.0 515.19 L597.0 515.58 L600.0 515.98 L603.0 516.39 L606.0 516.80 L609.0 517.22 L612.0 517.65 L615.0 518.08 L618.0 518.52 L621.0 518.95 L624.0 519.39 L627.0 519.83 L630.0 520.26 L633.0 520.69 L636.0 521.12 L639.0 521.54 L642.0 521.96 L645.0 522.37 L648.0 522.76 L651.0 523.15 L654.0 523.53 L657.0 523.90 L660.0 524.25 L663.0 524.59 L666.0 524.92 L669.0 525.23 L672.0 525.54 L675.0 525.83 L678.0 526.12 L681.0 526.40 L684.0 526.67 L687.0 526.93 L690.0 527.19 L693.0 527.43 L696.0 527.67 L699.0 527.91 L702.0 528.13 L705.0 528.36 L708.0 528.57 L711.0 528.78 L714.0 528.98 L717.0 529.18 L720.0 529.37 L723.0 529.56 L726.0 529.75 L729.0 529.92 L732.0 530.10 L735.0 530.27 L738.0 530.44 L741.0 530.60 L744.0 530.76 L747.0 530.92 L750.0 531.08 L753.0 531.23 L756.0 531.38 L759.0 531.53 L762.0 531.68 L765.0 531.83 L768.0 531.97 L771.0 532.12 L774.0 532.26 L777.0 532.40 L780.0 532.55 L783.0 532.69 L786.0 532.83 L789.0 532.98 L792.0 533.12 L795.0 533.27 L798.0 533.42 L801.0 533.56 L804.0 533.71 L807.0 533.87 L810.0 534.02 L813.0 534.18 L816.0 534.34 L819.0 534.50 L822.0 534.67 L825.0 534.84 L828.0 535.01 L831.0 535.18 L834.0 535.36 L837.0 535.53 L840.0 535.70 L843.0 535.87 L846.0 536.03 L849.0 536.19 L852.0 536.34 L855.0 536.49 L858.0 536.62 L861.0 536.75 L864.0 536.87 L867.0 536.98 L870.0 537.08 L873.0 537.17 L876.0 537.24 L879.0 537.29 L882.0 537.34 L885.0 537.36 L888.0 537.37 L891.0 537.36 L894.0 537.32 L897.0 537.27 L900.0 537.20 L903.0 537.11 L906.0 536.99 L909.0 536.84 L912.0 536.68 L915.0 536.48 L918.0 536.27 L921.0 536.03 L924.0 535.78 L927.0 535.52 L930.0 535.24 L933.0 534.95 L936.0 534.65 L939.0 534.34 L942.0 534.03 L945.0 533.72 L948.0 533.41 L951.0 533.11 L954.0 532.81 L957.0 532.51 L960.0 532.23 L963.0 531.95 L966.0 531.70 L969.0 531.45" stroke="#d0649a" stroke-width="1.6" fill="none" stroke-linejoin="round"/>
<path d="M57.0 521.32 L60.0 521.11 L63.0 520.90 L66.0 520.68 L69.0 520.47 L72.0 520.26 L75.0 520.04 L78.0 519.83 L81.0 519.62 L84.0 519.41 L87.0 519.19 L90.0 518.98 L93.0 518.77 L96.0 518.56 L99.0 518.34 L102.0 518.13 L105.0 517.92 L108.0 517.70 L111.0 517.49 L114.0 517.27 L117.0 517.06 L120.0 516.84 L123.0 516.63 L126.0 516.41 L129.0 516.19 L132.0 515.98 L135.0 515.76 L138.0 515.54 L141.0 515.32 L144.0 515.10 L147.0 514.88 L150.0 514.66 L153.0 514.43 L156.0 514.21 L159.0 513.99 L162.0 513.76 L165.0 513.53 L168.0 513.31 L171.0 513.08 L174.0 512.85 L177.0 512.62 L180.0 512.39 L183.0 512.15 L186.0 511.92 L189.0 511.69 L192.0 511.45 L195.0 511.21 L198.0 510.98 L201.0 510.74 L204.0 510.50 L207.0 510.26 L210.0 510.02 L213.0 509.78 L216.0 509.54 L219.0 509.29 L222.0 509.05 L225.0 508.81 L228.0 508.56 L231.0 508.31 L234.0 508.07 L237.0 507.82 L240.0 507.57 L243.0 507.32 L246.0 507.07 L249.0 506.82 L252.0 506.57 L255.0 506.31 L258.0 506.06 L261.0 505.81 L264.0 505.55 L267.0 505.30 L270.0 505.04 L273.0 504.78 L276.0 504.53 L279.0 504.27 L282.0 504.01 L285.0 503.75 L288.0 503.49 L291.0 503.23 L294.0 502.96 L297.0 502.70 L300.0 502.44 L303.0 502.17 L306.0 501.91 L309.0 501.65 L312.0 501.38 L315.0 501.12 L318.0 500.85 L321.0 500.59 L324.0 500.32 L327.0 500.06 L330.0 499.79 L333.0 499.53 L336.0 499.26 L339.0 498.99 L342.0 498.73 L345.0 498.46 L348.0 498.20 L351.0 497.94 L354.0 497.67 L357.0 497.41 L360.0 497.15 L363.0 496.88 L366.0 496.62 L369.0 496.36 L372.0 496.10 L375.0 495.84 L378.0 495.58 L381.0 495.32 L384.0 495.06 L387.0 494.81 L390.0 494.55 L393.0 494.29 L396.0 494.04 L399.0 493.78 L402.0 493.53 L405.0 493.27 L408.0 493.02 L411.0 492.76 L414.0 492.51 L417.0 492.26 L420.0 492.00 L423.0 491.75 L426.0 491.49 L429.0 491.24 L432.0 490.99 L435.0 490.73 L438.0 490.48 L441.0 490.22 L444.0 489.97 L447.0 489.71 L450.0 489.45 L453.0 489.19 L456.0 488.94 L459.0 488.68 L462.0 488.42 L465.0 488.16 L468.0 487.89 L471.0 487.63 L474.0 487.37 L477.0 487.10 L480.0 486.84 L483.0 486.57 L486.0 486.30 L489.0 486.03 L492.0 485.76 L495.0 485.48 L498.0 485.21 L501.0 484.93 L504.0 484.66 L507.0 484.38 L510.0 484.10 L513.0 483.82 L516.0 483.53 L519.0 483.25 L522.0 482.96 L525.0 482.68 L528.0 482.39 L531.0 482.10 L534.0 481.81 L537.0 481.52 L540.0 481.23 L543.0 480.94 L546.0 480.64 L549.0 480.35 L552.0 480.05 L555.0 479.76 L558.0 479.46 L561.0 479.17 L564.0 478.87 L567.0 478.57 L570.0 478.28 L573.0 477.98 L576.0 477.68 L579.0 477.39 L582.0 477.09 L585.0 476.79 L588.0 476.49 L591.0 476.19 L594.0 475.90 L597.0 475.60 L600.0 475.30 L603.0 475.01 L606.0 474.71 L609.0 474.42 L612.0 474.12 L615.0 473.83 L618.0 473.54 L621.0 473.24 L624.0 472.95 L627.0 472.66 L630.0 472.37 L633.0 472.09 L636.0 471.80 L639.0 471.51 L642.0 471.23 L645.0 470.94 L648.0 470.66 L651.0 470.37 L654.0 470.09 L657.0 469.81 L660.0 469.53 L663.0 469.25 L666.0 468.97 L669.0 468.69 L672.0 468.41 L675.0 468.13 L678.0 467.86 L681.0 467.58 L684.0 467.30 L687.0 467.03 L690.0 466.75 L693.0 466.48 L696.0 466.21 L699.0 465.93 L702.0 465.66 L705.0 465.39 L708.0 465.12 L711.0 464.85 L714.0 464.58 L717.0 464.30 L720.0 464.03 L723.0 463.76 L726.0 463.50 L729.0 463.23 L732.0 462.96 L735.0 462.69 L738.0 462.42 L741.0 462.15 L744.0 461.88 L747.0 461.62 L750.0 461.35 L753.0 461.08 L756.0 460.81 L759.0 460.55 L762.0 460.28 L765.0 460.01 L768.0 459.75 L771.0 459.48 L774.0 459.21 L777.0 458.95 L780.0 458.68 L783.0 458.42 L786.0 458.15 L789.0 457.89 L792.0 457.63 L795.0 457.36 L798.0 457.10 L801.0 456.84 L804.0 456.58 L807.0 456.32 L810.0 456.06 L813.0 455.80 L816.0 455.55 L819.0 455.29 L822.0 455.04 L825.0 454.78 L828.0 454.53 L831.0 454.28 L834.0 454.03 L837.0 453.78 L840.0 453.53 L843.0 453.28 L846.0 453.04 L849.0 452.79 L852.0 452.55 L855.0 452.31 L858.0 452.07 L861.0 451.83 L864.0 451.60 L867.0 451.36 L870.0 451.13 L873.0 450.90 L876.0 450.67 L879.0 450.44 L882.0 450.21 L885.0 449.99 L888.0 449.77 L891.0 449.55 L894.0 449.33 L897.0 449.12 L900.0 448.91 L903.0 448.70 L906.0 448.49 L909.0 448.29 L912.0 448.08 L915.0 447.88 L918.0 447.69 L921.0 447.49 L924.0 447.30 L927.0 447.12 L930.0 446.93 L933.0 446.75 L936.0 446.58 L939.0 446.40 L942.0 446.23 L945.0 446.07 L948.0 445.90 L951.0 445.74 L954.0 445.59 L957.0 445.44 L960.0 445.29 L963.0 445.15 L966.0 445.01 L969.0 444.87" stroke="#c77aa0" stroke-width="1.6" stroke-dasharray="1.6 1.6" fill="none"/>
<circle cx="57.5" cy="479.1" r="3.2" stroke="#e2b2c8" stroke-width="0.8" fill="none"/>
<circle cx="57.5" cy="521.3" r="3.2" stroke="#e2b2c8" stroke-width="0.8" fill="none"/>
<circle cx="156.4" cy="473.9" r="3.2" stroke="#e2b2c8" stroke-width="0.8" fill="none"/>
<circle cx="156.4" cy="514.2" r="3.2" stroke="#e2b2c8" stroke-width="0.8" fill="none"/>
<circle cx="254.6" cy="471.1" r="3.2" stroke="#e2b2c8" stroke-width="0.8" fill="none"/>
<circle cx="254.6" cy="506.3" r="3.2" stroke="#e2b2c8" stroke-width="0.8" fill="none"/>
<circle cx="351.3" cy="474.1" r="3.2" stroke="#e2b2c8" stroke-width="0.8" fill="none"/>
<circle cx="351.3" cy="497.9" r="3.2" stroke="#e2b2c8" stroke-width="0.8" fill="none"/>
<circle cx="468.4" cy="504.1" r="3.2" stroke="#e2b2c8" stroke-width="0.8" fill="none"/>
<circle cx="468.4" cy="487.9" r="3.2" stroke="#e2b2c8" stroke-width="0.8" fill="none"/>
<circle cx="571.8" cy="512.7" r="3.2" stroke="#e2b2c8" stroke-width="0.8" fill="none"/>
<circle cx="571.8" cy="478.1" r="3.2" stroke="#e2b2c8" stroke-width="0.8" fill="none"/>
<circle cx="677.6" cy="526.1" r="3.2" stroke="#e2b2c8" stroke-width="0.8" fill="none"/>
<circle cx="677.6" cy="467.9" r="3.2" stroke="#e2b2c8" stroke-width="0.8" fill="none"/>
<circle cx="774.3" cy="532.3" r="3.2" stroke="#e2b2c8" stroke-width="0.8" fill="none"/>
<circle cx="774.3" cy="459.2" r="3.2" stroke="#e2b2c8" stroke-width="0.8" fill="none"/>
<circle cx="878.6" cy="537.3" r="3.2" stroke="#e2b2c8" stroke-width="0.8" fill="none"/>
<circle cx="878.6" cy="450.5" r="3.2" stroke="#e2b2c8" stroke-width="0.8" fill="none"/>
<circle cx="967.5" cy="531.6" r="3.2" stroke="#e2b2c8" stroke-width="0.8" fill="none"/>
<circle cx="967.5" cy="444.9" r="3.2" stroke="#e2b2c8" stroke-width="0.8" fill="none"/>
</g>
<text x="47.6" y="593.2" text-anchor="end" font-family="Liberation Sans" font-weight="bold" font-size="11.5" letter-spacing="0.3" fill="#111">8</text>
<text x="47.6" y="565.5" text-anchor="end" font-family="Liberation Sans" font-weight="bold" font-size="11.5" letter-spacing="0.3" fill="#111">9</text>
<text x="47.6" y="537.8" text-anchor="end" font-family="Liberation Sans" font-weight="bold" font-size="11.5" letter-spacing="0.3" fill="#111">10</text>
<text x="47.6" y="510.1" text-anchor="end" font-family="Liberation Sans" font-weight="bold" font-size="11.5" letter-spacing="0.3" fill="#111">11</text>
<text x="47.6" y="482.4" text-anchor="end" font-family="Liberation Sans" font-weight="bold" font-size="11.5" letter-spacing="0.3" fill="#111">12</text>
<text x="47.6" y="454.7" text-anchor="end" font-family="Liberation Sans" font-weight="bold" font-size="11.5" letter-spacing="0.3" fill="#111">13</text>
<text x="986.6" y="592.7" text-anchor="middle" font-family="Liberation Sans" font-weight="bold" font-size="11.5" letter-spacing="0.3" fill="#111">0</text>
<text x="986.6" y="577.3" text-anchor="middle" font-family="Liberation Sans" font-weight="bold" font-size="11.5" letter-spacing="0.3" fill="#111">34</text>
<text x="986.6" y="561.9" text-anchor="middle" font-family="Liberation Sans" font-weight="bold" font-size="11.5" letter-spacing="0.3" fill="#111">68</text>
<text x="986.6" y="546.4" text-anchor="middle" font-family="Liberation Sans" font-weight="bold" font-size="11.5" letter-spacing="0.3" fill="#111">102</text>
<text x="986.6" y="531.0" text-anchor="middle" font-family="Liberation Sans" font-weight="bold" font-size="11.5" letter-spacing="0.3" fill="#111">136</text>
<text x="986.6" y="515.6" text-anchor="middle" font-family="Liberation Sans" font-weight="bold" font-size="11.5" letter-spacing="0.3" fill="#111">170</text>
<text x="986.6" y="500.2" text-anchor="middle" font-family="Liberation Sans" font-weight="bold" font-size="11.5" letter-spacing="0.3" fill="#111">204</text>
<text x="986.6" y="484.8" text-anchor="middle" font-family="Liberation Sans" font-weight="bold" font-size="11.5" letter-spacing="0.3" fill="#111">238</text>
<text x="986.6" y="469.3" text-anchor="middle" font-family="Liberation Sans" font-weight="bold" font-size="11.5" letter-spacing="0.3" fill="#111">272</text>
<text x="986.6" y="453.9" text-anchor="middle" font-family="Liberation Sans" font-weight="bold" font-size="11.5" letter-spacing="0.3" fill="#111">306</text>
<text x="986.6" y="438.5" text-anchor="middle" font-family="Liberation Sans" font-weight="bold" font-size="11.5" letter-spacing="0.3" fill="#111">340</text>
<text transform="translate(24,506.3) rotate(-90)" text-anchor="middle" font-family="Liberation Sans" font-weight="bold" font-size="11" letter-spacing="0.52" fill="#111">Air / Fuel</text>
<text transform="translate(1012,506.5) rotate(-90)" text-anchor="middle" font-family="Liberation Sans" font-size="11" letter-spacing="0.1" fill="#111">Boost (MBar)</text>
<text x="121.6" y="608.1" text-anchor="middle" font-family="Liberation Sans" font-weight="bold" font-size="11.5" letter-spacing="0.3" fill="#111">3900</text>
<text x="215.3" y="608.1" text-anchor="middle" font-family="Liberation Sans" font-weight="bold" font-size="11.5" letter-spacing="0.3" fill="#111">4000</text>
<text x="309.1" y="608.1" text-anchor="middle" font-family="Liberation Sans" font-weight="bold" font-size="11.5" letter-spacing="0.3" fill="#111">4100</text>
<text x="402.9" y="608.1" text-anchor="middle" font-family="Liberation Sans" font-weight="bold" font-size="11.5" letter-spacing="0.3" fill="#111">4200</text>
<text x="496.6" y="608.1" text-anchor="middle" font-family="Liberation Sans" font-weight="bold" font-size="11.5" letter-spacing="0.3" fill="#111">4300</text>
<text x="590.4" y="608.1" text-anchor="middle" font-family="Liberation Sans" font-weight="bold" font-size="11.5" letter-spacing="0.3" fill="#111">4400</text>
<text x="684.1" y="608.1" text-anchor="middle" font-family="Liberation Sans" font-weight="bold" font-size="11.5" letter-spacing="0.3" fill="#111">4500</text>
<text x="777.9" y="608.1" text-anchor="middle" font-family="Liberation Sans" font-weight="bold" font-size="11.5" letter-spacing="0.3" fill="#111">4600</text>
<text x="871.6" y="608.1" text-anchor="middle" font-family="Liberation Sans" font-weight="bold" font-size="11.5" letter-spacing="0.3" fill="#111">4700</text>
<text x="965.4" y="608.1" text-anchor="middle" font-family="Liberation Sans" font-weight="bold" font-size="11.5" letter-spacing="0.3" fill="#111">4800</text>
<text x="512" y="625.1" text-anchor="middle" font-family="Liberation Sans" font-weight="bold" font-size="10" letter-spacing="0.34" fill="#222">Engine Speed (RPM)</text>
</svg></body></html>
